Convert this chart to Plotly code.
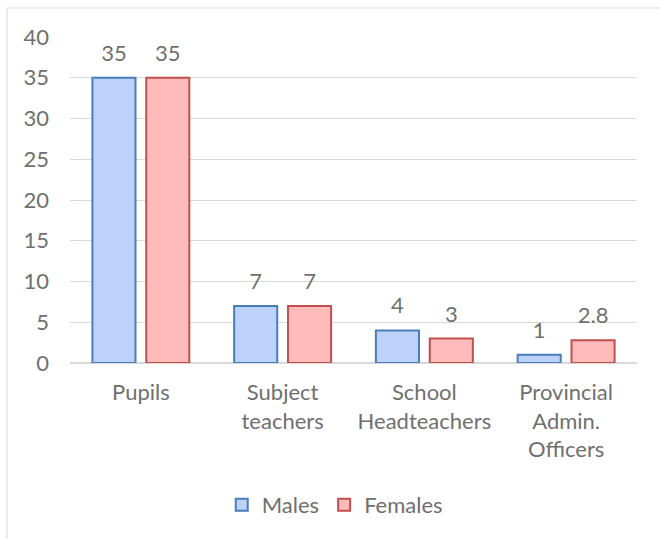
import plotly.graph_objects as go

categories = ["Pupils", "Subject<br>teachers", "School<br>Headteachers", "Provincial<br>Admin.<br>Officers"]
males = [35, 7, 4, 1]
females = [35, 7, 3, 2.8]
y_ticks = [0, 5, 10, 15, 20, 25, 30, 35, 40]

_FONT = "Lato"
_SIZE = 22
_GREY = "#6f6f6f"
_GRID = "#d9d9d9"

# a big-font space on each side adds descent below the label, lifting it off the bar
_PAD = "<span style='font-size:68px'> </span>"


def _labels(values):
    return [f"{_PAD}{v:g}{_PAD}" for v in values]


fig = go.Figure()
fig.add_trace(go.Bar(
    x=categories, y=males, name="Males",
    text=_labels(males), textposition="outside", cliponaxis=False,
    marker=dict(color="#bcd2fb", line=dict(color="#4a7ebb", width=2)),
))
fig.add_trace(go.Bar(
    x=categories, y=females, name="Females",
    text=_labels(females), textposition="outside", cliponaxis=False,
    marker=dict(color="#ffbaba", line=dict(color="#c0504d", width=2)),
))

fig.update_layout(
    width=660, height=539,
    margin=dict(l=70, r=23, t=37, b=176),
    paper_bgcolor="white", plot_bgcolor="white",
    font=dict(family=_FONT, size=_SIZE, color=_GREY),
    barmode="group", bargap=0.24, bargroupgap=0.2,
    uniformtext=None,
    showlegend=True,
    legend=dict(
        orientation="h", xref="container", yref="container",
        x=0.336, y=0.063, xanchor="left", yanchor="middle",
        font=dict(family=_FONT, size=_SIZE, color=_GREY), itemwidth=30,
    ),
    shapes=[dict(
        type="rect", xref="paper", yref="paper",
        x0=-0.111, x1=1.2, y0=-0.7, y1=1.089,
        line=dict(color="#d9d9d9", width=1), layer="below",
    )],
)
fig.update_traces(textfont=dict(family=_FONT, size=_SIZE, color=_GREY), constraintext="none")
fig.update_yaxes(
    range=[0, 40], tickvals=y_ticks, showgrid=True, gridcolor=_GRID, gridwidth=1,
    zeroline=True, zerolinecolor=_GRID, showline=False, ticks="",
    ticklabelstandoff=20, automargin=False,
)
fig.update_xaxes(showline=False, ticks="", ticklabelstandoff=14, automargin=False)

fig.write_html("out.html", config={"displayModeBar": False},
               post_script="document.body.style.margin='0';")
